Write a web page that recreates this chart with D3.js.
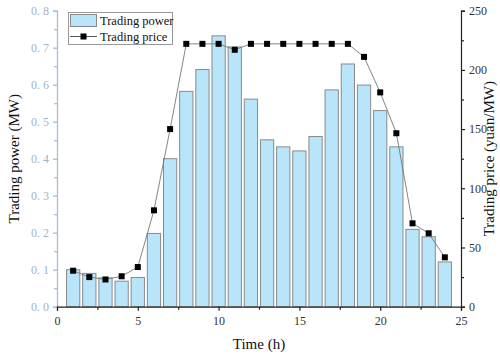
<!DOCTYPE html>
<html><head><meta charset="utf-8">
<script src="https://cdn.jsdelivr.net/npm/d3@7"></script>
<style>body{margin:0;background:#fff}svg{display:block}text{font-family:"Liberation Serif","Times New Roman",serif}</style>
</head><body><svg id="c" width="500" height="356"></svg>
<script>
const hours = [1,2,3,4,5,6,7,8,9,10,11,12,13,14,15,16,17,18,19,20,21,22,23,24];
const power = [0.10,0.09,0.078,0.069,0.079,0.198,0.40,0.582,0.641,0.732,0.702,0.561,0.451,0.432,0.421,0.46,0.586,0.656,0.599,0.53,0.432,0.209,0.189,0.121];
const price = [30.4,25,23,25.7,33.5,81.4,150,222,222,222,217,222,222,222,222,222,222,222,211,181,146.5,70.4,62,41.7];
const xTicks = [0,5,10,15,20,25];
const leftTicks = [0,0.1,0.2,0.3,0.4,0.5,0.6,0.7,0.8];
const rightTicks = [0,50,100,150,200,250];

const svg = d3.select("#c");
const L=57, R=461, T=10.7, B=306.7;
const x = d3.scaleLinear().domain([0,25]).range([L,R]);
const yL = d3.scaleLinear().domain([0,0.8]).range([B,T]);
const yR = d3.scaleLinear().domain([0,250]).range([B,T]);
const blue = "#a7bdd4";

// bars
const bw = (x(1)-x(0))*0.82;
svg.append("g").selectAll("rect").data(hours).join("rect")
  .attr("x", (d)=>x(d)-bw/2).attr("width", bw)
  .attr("y", (d,i)=>yL(power[i])).attr("height", (d,i)=>B-yL(power[i]))
  .attr("fill","#b8e5fa").attr("stroke","#8a8a8a").attr("stroke-width",1);

// price line
const line = d3.line().x((d)=>x(d)).y((d,i)=>yR(price[i])).curve(d3.curveLinear);
svg.append("path").datum(hours).attr("d", line).attr("fill","none").attr("stroke","#777").attr("stroke-width",0.9);
svg.append("g").selectAll("rect").data(hours).join("rect")
  .attr("x",(d)=>x(d)-3).attr("y",(d,i)=>yR(price[i])-3).attr("width",6).attr("height",6).attr("fill","#000");

// left axis
const gl = svg.append("g").attr("transform",`translate(${L},0)`)
  .call(d3.axisLeft(yL).tickValues(leftTicks).tickSize(4).tickPadding(4).tickFormat((d)=>d3.format(".1f")(d).replace(".",". ")));
gl.selectAll("path,line").attr("stroke",blue).attr("stroke-width",1.3);
gl.selectAll("text").attr("fill","#9fb3cb").attr("font-size",12).style("font-family","'Liberation Serif',serif");
svg.append("g").attr("transform",`translate(${L},0)`)
  .call(d3.axisLeft(yL).tickValues(d3.range(0.05,0.8,0.1)).tickSize(3).tickFormat(""))
  .call((g)=>{g.select(".domain").remove();g.selectAll("line").attr("stroke",blue).attr("stroke-width",1.2);});

// right axis
const gr = svg.append("g").attr("transform",`translate(${R},0)`)
  .call(d3.axisRight(yR).tickValues(rightTicks).tickSize(4).tickPadding(4));
gr.selectAll("path,line").attr("stroke","#222").attr("stroke-width",1.2);
gr.selectAll("text").attr("fill","#333").attr("font-size",12);
svg.append("g").attr("transform",`translate(${R},0)`)
  .call(d3.axisRight(yR).tickValues(d3.range(25,250,50)).tickSize(3).tickFormat(""))
  .call((g)=>{g.select(".domain").remove();g.selectAll("line").attr("stroke","#222").attr("stroke-width",1.2);});

// bottom axis
const gb = svg.append("g").attr("transform",`translate(0,${B})`)
  .call(d3.axisBottom(x).tickValues(xTicks).tickSize(4).tickPadding(6));
gb.selectAll("path,line").attr("stroke","#222").attr("stroke-width",1.2);
gb.selectAll("text").attr("fill","#333").attr("font-size",12);
svg.append("g").attr("transform",`translate(0,${B})`)
  .call(d3.axisBottom(x).tickValues(d3.range(2.5,25,5)).tickSize(3).tickFormat(""))
  .call((g)=>{g.select(".domain").remove();g.selectAll("line").attr("stroke","#222").attr("stroke-width",1.2);});

// axis titles
svg.append("text").attr("x",259).attr("y",349).attr("text-anchor","middle").attr("font-size",15).attr("fill","#111").text("Time (h)");
svg.append("text").attr("transform",`translate(19,${(T+B)/2}) rotate(-90)`).attr("text-anchor","middle").attr("font-size",15).attr("fill","#111").text("Trading power (MW)");
svg.append("text").attr("transform",`translate(494,${(T+B)/2}) rotate(-90)`).attr("text-anchor","middle").attr("font-size",15).attr("fill","#111").text("Trading price (yuan/MW)");

// legend
const lg = svg.append("g");
lg.append("rect").attr("x",68.5).attr("y",12.5).attr("width",104).attr("height",32).attr("fill","#fff").attr("stroke","#999");
lg.append("rect").attr("x",70.5).attr("y",14.5).attr("width",26).attr("height",12).attr("fill","#b8e5fa").attr("stroke","#888");
lg.append("text").attr("x",100).attr("y",25).attr("font-size",12.5).attr("fill","#111").text("Trading power");
lg.append("line").attr("x1",70).attr("x2",97).attr("y1",36.5).attr("y2",36.5).attr("stroke","#555");
lg.append("rect").attr("x",80.5).attr("y",33.5).attr("width",6).attr("height",6).attr("fill","#000");
lg.append("text").attr("x",100).attr("y",40.5).attr("font-size",12.5).attr("fill","#111").text("Trading price");
</script></body></html>
